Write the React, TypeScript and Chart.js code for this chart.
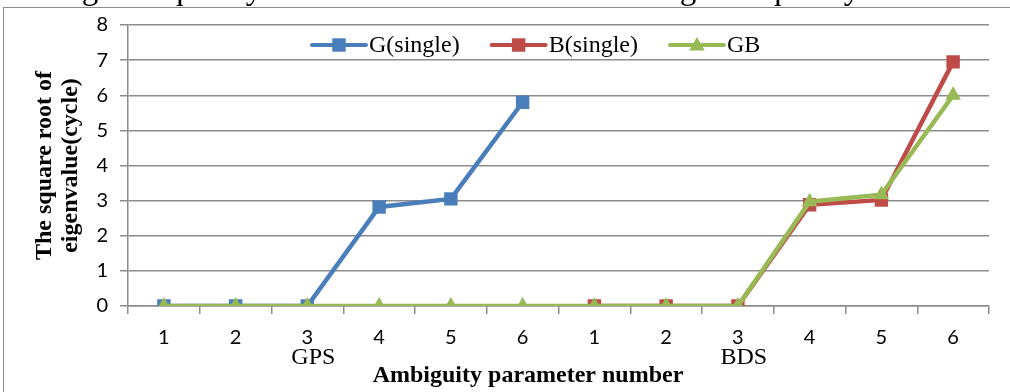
import React, { useEffect, useRef } from 'react';
import { Chart, registerables } from 'chart.js';

Chart.register(...registerables);

const categories = ['1', '2', '3', '4', '5', '6', '1', '2', '3', '4', '5', '6'];
const groupLabels = ['GPS', 'BDS'];
const groupLabelIndex = [2, 8];
const gSingle = [0, 0, 0, 2.82, 3.05, 5.8, null, null, null, null, null, null];
const bSingle = [null, null, null, null, null, null, 0, 0, 0, 2.88, 3.02, 6.95];
const gb = [0, 0, 0, 0, 0, 0, 0, 0, 0, 2.97, 3.17, 6.0];
const seriesNames = ['G(single)', 'B(single)', 'GB'];
const yTicks = [0, 1, 2, 3, 4, 5, 6, 7, 8];
const yTitle = ['The square root of', 'eigenvalue(cycle)'];
const xTitle = 'Ambiguity parameter number';
const captionText = 'with single frequency observation';

const BLUE = '#4A7EBB';
const RED = '#BE4B48';
const GREEN = '#98B954';
const GRID = '#8C8C8C';
const SERIF = '"Liberation Serif", "Times New Roman", serif';
const SANS = 'Lato, "Open Sans", sans-serif';

function drawMarker(ctx: CanvasRenderingContext2D, style: string, x: number, y: number, r: number, color: string) {
  ctx.save();
  ctx.fillStyle = color;
  ctx.beginPath();
  if (style === 'rect') {
    const s = Math.SQRT1_2 * r;
    ctx.rect(x - s, y - s, 2 * s, 2 * s);
  } else {
    let rad = 0;
    ctx.moveTo(x + Math.sin(rad) * r, y - Math.cos(rad) * r);
    rad += (2 * Math.PI) / 3;
    ctx.lineTo(x + Math.sin(rad) * r, y - Math.cos(rad) * r);
    rad += (2 * Math.PI) / 3;
    ctx.lineTo(x + Math.sin(rad) * r, y - Math.cos(rad) * r);
    ctx.closePath();
  }
  ctx.fill();
  ctx.restore();
}

const decorPlugin = {
  id: 'decor',
  beforeDraw(chart: any) {
    const ctx = chart.ctx as CanvasRenderingContext2D;
    ctx.save();
    ctx.fillStyle = '#ffffff';
    ctx.fillRect(0, 0, chart.width, chart.height);
    // frame
    ctx.strokeStyle = GRID;
    ctx.lineWidth = 1;
    ctx.strokeRect(3.5, 7.5, chart.width + 20, chart.height + 20);
    // clipped captions (only descenders visible)
    ctx.fillStyle = '#000';
    ctx.font = `33px ${SERIF}`;
    ctx.textBaseline = 'alphabetic';
    ctx.textAlign = 'left';
    const pre = ctx.measureText('with sin').width;
    const gw = ctx.measureText('g').width;
    [90, 688].forEach((gx) => {
      ctx.fillText(captionText, gx - pre - gw / 2, -1);
    });
    ctx.restore();
  },
  afterDraw(chart: any) {
    const ctx = chart.ctx as CanvasRenderingContext2D;
    const xs = chart.scales.x;
    const area = chart.chartArea;
    ctx.save();
    ctx.fillStyle = '#000';
    // group labels
    ctx.font = `24px ${SERIF}`;
    ctx.textAlign = 'center';
    ctx.textBaseline = 'middle';
    groupLabels.forEach((g, i) => {
      ctx.fillText(g, xs.getPixelForValue(groupLabelIndex[i]) + 6, 358);
    });
    // x title
    ctx.font = `bold 24px ${SERIF}`;
    ctx.fillText(xTitle, 528, 376);
    // y title
    const cy = (area.top + area.bottom) / 2;
    [45, 71].forEach((x, i) => {
      ctx.save();
      ctx.translate(x, cy);
      ctx.rotate(-Math.PI / 2);
      ctx.fillText(yTitle[i], 0, 0);
      ctx.restore();
    });
    // legend
    const colors = [BLUE, RED, GREEN];
    const styles = ['rect', 'rect', 'triangle'];
    const radii = [9.5, 9.5, 9];
    ctx.font = `24px ${SERIF}`;
    ctx.textAlign = 'left';
    let lx = 312;
    const ly = 45;
    seriesNames.forEach((name, i) => {
      ctx.strokeStyle = colors[i];
      ctx.lineWidth = 4;
      ctx.lineCap = 'round';
      ctx.beginPath();
      ctx.moveTo(lx, ly);
      ctx.lineTo(lx + 54, ly);
      ctx.stroke();
      drawMarker(ctx, styles[i], lx + 27, ly + (styles[i] === 'triangle' ? 1 : 0), radii[i], colors[i]);
      ctx.fillStyle = '#000';
      ctx.fillText(name, lx + 57, ly + 1);
      lx += 57 + ctx.measureText(name).width + 32;
    });
    ctx.restore();
  },
};

export default function App() {
  const ref = useRef<HTMLCanvasElement | null>(null);
  useEffect(() => {
    if (!ref.current) return;
    const chart = new Chart(ref.current, {
      type: 'line',
      data: {
        labels: categories,
        datasets: [
          {
            label: seriesNames[0],
            data: gSingle,
            borderColor: BLUE,
            backgroundColor: BLUE,
            borderWidth: 4.5,
            pointStyle: 'rect',
            pointRadius: 9.5,
            pointBorderWidth: 0,
            order: 2,
            spanGaps: false,
          },
          {
            label: seriesNames[1],
            data: bSingle,
            borderColor: RED,
            backgroundColor: RED,
            borderWidth: 4.5,
            pointStyle: 'rect',
            pointRadius: 9.5,
            pointBorderWidth: 0,
            order: 1,
            spanGaps: false,
          },
          {
            label: seriesNames[2],
            data: gb,
            borderColor: GREEN,
            backgroundColor: GREEN,
            borderWidth: 4.5,
            pointStyle: 'triangle',
            pointRadius: 9,
            pointBorderWidth: 0,
            order: 0,
          },
        ],
      },
      options: {
        animation: false,
        responsive: false,
        maintainAspectRatio: false,
        layout: { padding: { top: 25, right: 21, left: 0, bottom: 0 } },
        plugins: { legend: { display: false }, tooltip: { enabled: false } },
        scales: {
          x: {
            offset: true,
            grid: {
              offset: true,
              drawOnChartArea: false,
              drawTicks: true,
              tickLength: 8,
              color: GRID,
              lineWidth: 1.5,
            },
            border: { color: GRID, width: 1.5 },
            ticks: {
              font: { family: SANS, size: 20 },
              color: '#000',
              padding: 12,
              maxRotation: 0,
              autoSkip: false,
            },
            afterFit: (s: any) => {
              s.height = 86;
            },
          },
          y: {
            min: 0,
            max: 8,
            afterBuildTicks: (s: any) => {
              s.ticks = yTicks.map((v) => ({ value: v }));
            },
            grid: { color: GRID, lineWidth: 1.5, tickLength: 8 },
            border: { color: GRID, width: 1.5 },
            ticks: {
              font: { family: SANS, size: 20 },
              color: '#000',
              padding: 12,
            },
            afterFit: (s: any) => {
              s.width = 128;
            },
          },
        },
      },
      plugins: [decorPlugin],
    });
    return () => chart.destroy();
  }, []);
  return (
    <div style={{ position: 'fixed', left: 0, top: 0, width: 1010, height: 392 }}>
      <canvas ref={ref} width={1010} height={392} />
    </div>
  );
}
